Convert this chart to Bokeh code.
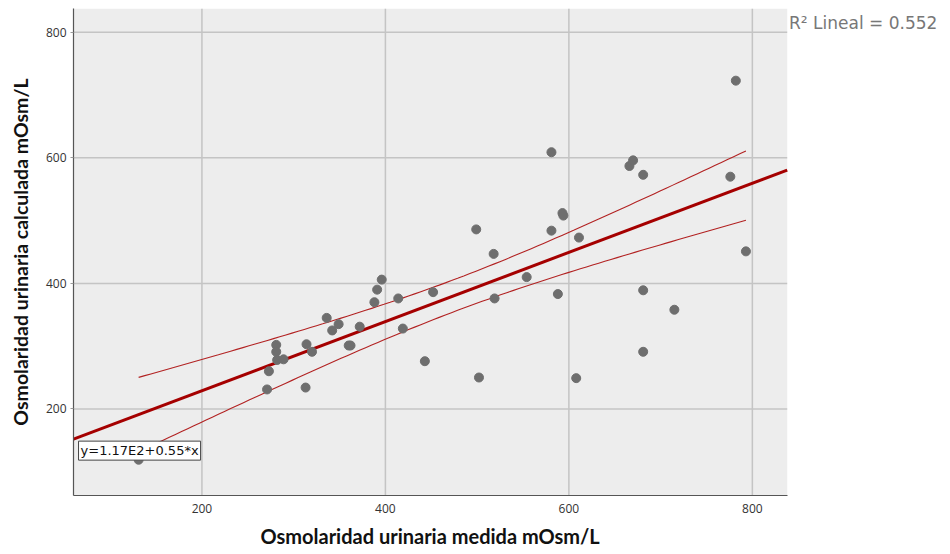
import numpy as np
from bokeh.plotting import figure
from bokeh.models import Range1d, Label, FixedTicker, ColumnDataSource, BoxAnnotation, Title
from bokeh.embed import file_html
from bokeh.resources import INLINE

# Measured (x) and calculated (y) urinary osmolarity, mOsm/L
medida = [131, 271, 273, 281, 281, 282, 289, 313, 314, 320, 336, 342, 349, 360, 362,
          372, 388, 391, 396, 414, 419, 443, 452, 499, 502, 518, 519, 554, 581, 581,
          588, 593, 594, 608, 611, 666, 670, 681, 681, 681, 715, 776, 782, 793]
calculada = [119, 231, 260, 302, 291, 278, 279, 234, 303, 291, 345, 325, 335, 301, 301,
             331, 370, 390, 406, 376, 328, 276, 386, 486, 250, 447, 376, 410, 609, 484,
             383, 512, 508, 249, 473, 587, 596, 573, 389, 291, 358, 570, 723, 451]
x_ticks = [200, 400, 600, 800]
y_ticks = [200, 400, 600, 800]
x_title = "Osmolaridad urinaria medida mOsm/L"
y_title = "Osmolaridad urinaria calculada mOsm/L"
eq_label = "y=1.17E2+0.55*x"
r2_label = "R\u00b2 Lineal = 0.552"

x = np.array(medida, dtype=float)
y = np.array(calculada, dtype=float)
n = len(x)
b, a = np.polyfit(x, y, 1)
xm = x.mean()
sxx = ((x - xm) ** 2).sum()
resid = y - (a + b * x)
s = np.sqrt((resid ** 2).sum() / (n - 2))
t = 2.018  # t(0.975, n-2)

x_rng = (60, 838)     # plotted data area
y_rng = (62, 838)
x_view_end = 1016     # extra room on the right for the R² note

p = figure(width=950, height=554, output_backend="svg", toolbar_location=None,
           x_range=Range1d(x_rng[0], x_view_end), y_range=Range1d(*y_rng),
           min_border_left=73, min_border_right=0, min_border_top=8, min_border_bottom=59)
p.background_fill_color = "white"
p.border_fill_color = "white"
p.outline_line_color = None
p.grid.visible = False

p.add_layout(BoxAnnotation(left=x_rng[0], right=x_rng[1], fill_color="#ededed",
                           fill_alpha=1.0, line_color=None, level="underlay"))

for ax in (p.xaxis[0], p.yaxis[0]):
    ax.axis_line_color = "#555555"
    ax.axis_line_width = 1.2
    ax.minor_tick_line_color = None
    ax.major_label_text_font = "Open Sans"
    ax.major_label_text_font_size = "12px"
    ax.major_label_text_color = "#333333"

p.xaxis.bounds = x_rng
p.xaxis.ticker = FixedTicker(ticks=x_ticks)
p.yaxis.ticker = FixedTicker(ticks=y_ticks)
p.xaxis.major_tick_line_color = None
p.xaxis.major_label_standoff = 2
p.yaxis.major_tick_out = 3
p.yaxis.major_tick_in = 0
p.yaxis.major_tick_line_color = "#999999"
p.yaxis.major_label_standoff = 4
p.yaxis.axis_label = y_title
p.yaxis.axis_label_text_font = "Lato"
p.yaxis.axis_label_text_font_style = "bold"
p.yaxis.axis_label_text_color = "#111111"
p.yaxis.axis_label_text_font_size = "19.5px"
p.yaxis.axis_label_standoff = 11

# x-axis title centred under the data area (not the whole frame)
p.add_layout(Title(text=x_title, align="left", offset=187, text_font="Lato",
                   text_font_style="bold", text_font_size="20px", text_color="#111111",
                   standoff=12), "below")

# grid lines limited to the data area
grid_col = "#c4c4c4"
p.segment(x0=x_ticks, x1=x_ticks, y0=[y_rng[0]] * len(x_ticks), y1=[y_rng[1]] * len(x_ticks),
          line_color=grid_col, line_width=1.5)
p.segment(x0=[x_rng[0]] * len(y_ticks), x1=[x_rng[1]] * len(y_ticks), y0=y_ticks, y1=y_ticks,
          line_color=grid_col, line_width=1.5)

# fit line across full data area
fx = np.array(x_rng, dtype=float)
p.line(fx, a + b * fx, line_color="#a50000", line_width=3)

# 95% CI of the mean
cx = np.linspace(x.min(), x.max(), 100)
se = s * np.sqrt(1.0 / n + (cx - xm) ** 2 / sxx)
p.line(cx, a + b * cx + t * se, line_color="#b22222", line_width=1.1)
p.line(cx, a + b * cx - t * se, line_color="#b22222", line_width=1.1)

src = ColumnDataSource(dict(x=medida, y=calculada))
p.scatter("x", "y", source=src, size=9, fill_color="#6e6e6e", line_color="#6e6e6e")

p.add_layout(Label(x=65.5, y=133.5, text=eq_label, text_font="DejaVu Sans",
                   text_font_size="13px", text_color="#111111", text_baseline="middle",
                   background_fill_color="white", border_line_color="#444444",
                   border_line_width=1, padding=2))
p.add_layout(Label(x=840, y=815, text=r2_label, text_font="DejaVu Sans",
                   text_font_size="17px", text_color="#777777", text_baseline="middle"))

open("out.html", "w").write(file_html(p, INLINE))
